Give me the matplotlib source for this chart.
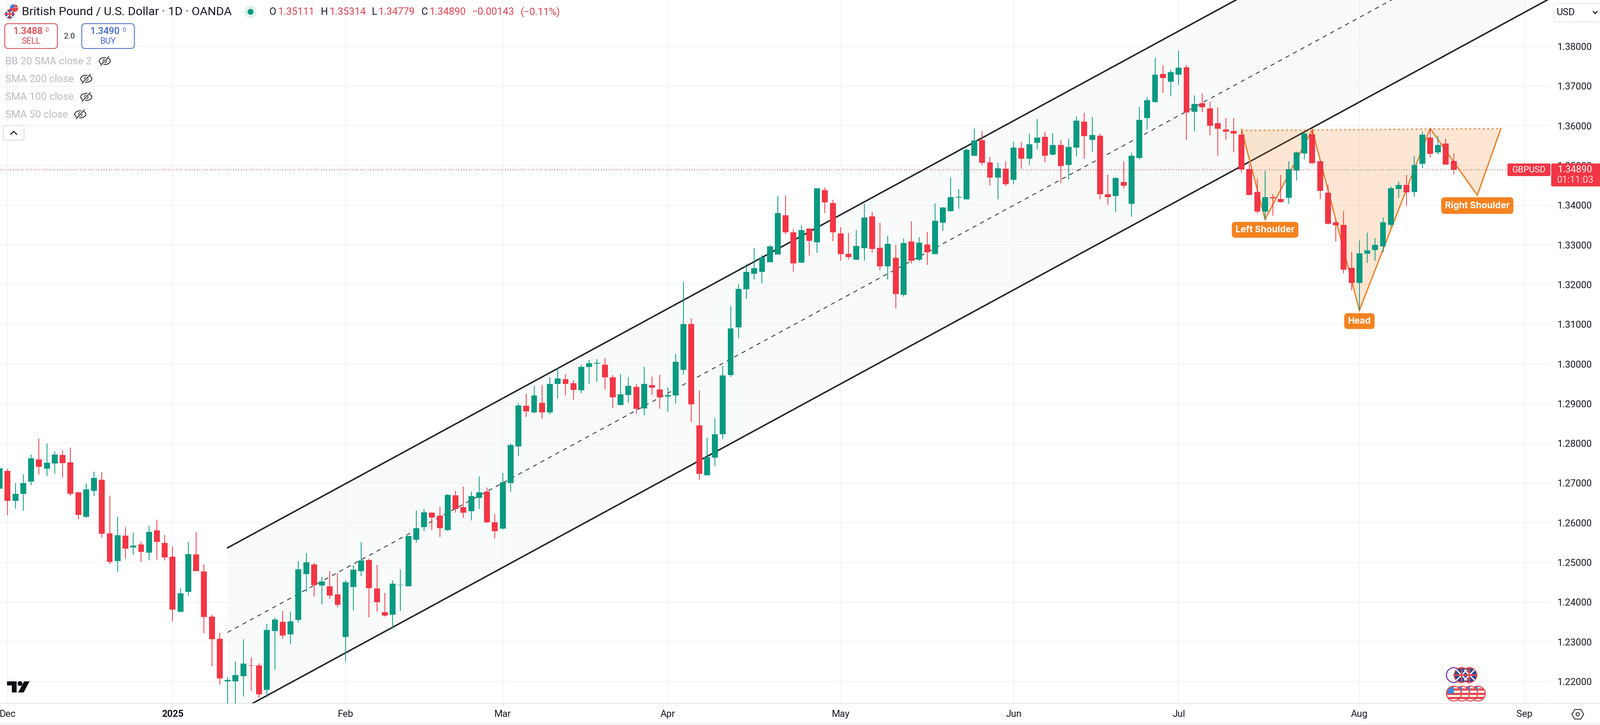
import numpy as np
import matplotlib
matplotlib.use("Agg")
import matplotlib.pyplot as plt
from matplotlib.patches import Circle, Ellipse, FancyBboxPatch, Polygon, Rectangle

plt.rcParams["font.family"] = "Roboto"

# GBPUSD daily candles, first bar sits just left of the Dec tick
first_bar = -1
opens = [
    1.2686, 1.2731, 1.2655, 1.2673, 1.2704, 1.2760, 1.2736, 1.2749, 1.2771, 1.2752,
    1.2677, 1.2615, 1.2680, 1.2708, 1.2573, 1.2503, 1.2568, 1.2538, 1.2545, 1.2525,
    1.2581, 1.2549, 1.2515, 1.2376, 1.2426, 1.2520, 1.2477, 1.2364, 1.2308, 1.2201,
    1.2201, 1.2214, 1.2241, 1.2241, 1.2179, 1.2327, 1.2351, 1.2319, 1.2355, 1.2471,
    1.2495, 1.2442, 1.2440, 1.2420, 1.2312, 1.2438, 1.2478, 1.2506, 1.2434, 1.2375,
    1.2368, 1.2443, 1.2440, 1.2557, 1.2589, 1.2625, 1.2618, 1.2582, 1.2669, 1.2639,
    1.2629, 1.2663, 1.2679, 1.2601, 1.2585, 1.2700, 1.2792, 1.2895, 1.2878, 1.2902,
    1.2878, 1.2950, 1.2962, 1.2952, 1.2934, 1.2993, 1.3001, 1.2998, 1.2966, 1.2897,
    1.2922, 1.2942, 1.2888, 1.2947, 1.2936, 1.2918, 1.2921, 1.2985, 1.3101, 1.2845,
    1.2720, 1.2764, 1.2823, 1.2972, 1.3092, 1.3188, 1.3227, 1.3232, 1.3256, 1.3276,
    1.3375, 1.3332, 1.3255, 1.3341, 1.3307, 1.3438, 1.3405, 1.3329, 1.3278, 1.3263,
    1.3292, 1.3372, 1.3293, 1.3246, 1.3267, 1.3174, 1.3308, 1.3263, 1.3301, 1.3277,
    1.3356, 1.3385, 1.3419, 1.3415, 1.3525, 1.3564, 1.3508, 1.3470, 1.3492, 1.3464,
    1.3544, 1.3517, 1.3557, 1.3572, 1.3527, 1.3552, 1.3501, 1.3545, 1.3610, 1.3565,
    1.3575, 1.3428, 1.3423, 1.3458, 1.3403, 1.3519, 1.3620, 1.3660, 1.3730, 1.3711,
    1.3729, 1.3747, 1.3635, 1.3657, 1.3644, 1.3607, 1.3591, 1.3587, 1.3578, 1.3491,
    1.3433, 1.3384, 1.3420, 1.3416, 1.3418, 1.3487, 1.3530, 1.3579, 1.3511, 1.3431,
    1.3357, 1.3350, 1.3242, 1.3204, 1.3278, 1.3287, 1.3296, 1.3350, 1.3441, 1.3451,
    1.3433, 1.3504, 1.3570, 1.3533, 1.3555, 1.35111,
]
highs = [
    1.2741, 1.2736, 1.2700, 1.2722, 1.2772, 1.2812, 1.2800, 1.2779, 1.2782, 1.2789,
    1.2679, 1.2699, 1.2729, 1.2728, 1.2668, 1.2615, 1.2589, 1.2575, 1.2553, 1.2593,
    1.2608, 1.2570, 1.2541, 1.2435, 1.2552, 1.2576, 1.2495, 1.2368, 1.2323, 1.2212,
    1.2251, 1.2307, 1.2261, 1.2246, 1.2345, 1.2361, 1.2378, 1.2377, 1.2503, 1.2524,
    1.2499, 1.2464, 1.2478, 1.2473, 1.2456, 1.2493, 1.2551, 1.2510, 1.2494, 1.2423,
    1.2455, 1.2483, 1.2567, 1.2631, 1.2635, 1.2626, 1.2640, 1.2672, 1.2680, 1.2691,
    1.2679, 1.2717, 1.2689, 1.2622, 1.2725, 1.2800, 1.2901, 1.2925, 1.2945, 1.2947,
    1.2966, 1.2991, 1.2974, 1.2959, 1.2998, 1.3010, 1.3012, 1.3015, 1.2972, 1.2975,
    1.2967, 1.2950, 1.2993, 1.2968, 1.2973, 1.2941, 1.3025, 1.3207, 1.3115, 1.2934,
    1.2815, 1.2864, 1.2995, 1.3145, 1.3201, 1.3252, 1.3292, 1.3274, 1.3299, 1.3423,
    1.3425, 1.3340, 1.3349, 1.3342, 1.3443, 1.3444, 1.3414, 1.3345, 1.3330, 1.3337,
    1.3403, 1.3383, 1.3356, 1.3323, 1.3300, 1.3316, 1.3360, 1.3320, 1.3333, 1.3404,
    1.3395, 1.3470, 1.3441, 1.3543, 1.3593, 1.3587, 1.3522, 1.3507, 1.3511, 1.3560,
    1.3560, 1.3580, 1.3617, 1.3585, 1.3581, 1.3565, 1.3567, 1.3624, 1.3633, 1.3622,
    1.3580, 1.3477, 1.3470, 1.3511, 1.3532, 1.3648, 1.3672, 1.3771, 1.3753, 1.3741,
    1.3789, 1.3753, 1.3676, 1.3682, 1.3661, 1.3647, 1.3620, 1.3620, 1.3588, 1.3504,
    1.3467, 1.3486, 1.3428, 1.3476, 1.3511, 1.3535, 1.3583, 1.3591, 1.3513, 1.3452,
    1.3364, 1.3385, 1.3282, 1.3311, 1.3331, 1.3317, 1.3369, 1.3447, 1.3459, 1.3476,
    1.3523, 1.3585, 1.3594, 1.3575, 1.3567, 1.35314,
]
lows = [
    1.2677, 1.2619, 1.2636, 1.2630, 1.2694, 1.2721, 1.2718, 1.2724, 1.2714, 1.2668,
    1.2609, 1.2612, 1.2667, 1.2563, 1.2496, 1.2476, 1.2510, 1.2519, 1.2502, 1.2505,
    1.2507, 1.2505, 1.2352, 1.2375, 1.2416, 1.2478, 1.2322, 1.2239, 1.2192, 1.2100,
    1.2125, 1.2162, 1.2176, 1.2160, 1.2161, 1.2230, 1.2308, 1.2294, 1.2349, 1.2426,
    1.2414, 1.2394, 1.2408, 1.2387, 1.2250, 1.2379, 1.2465, 1.2362, 1.2376, 1.2364,
    1.2333, 1.2378, 1.2440, 1.2550, 1.2579, 1.2582, 1.2564, 1.2579, 1.2625, 1.2612,
    1.2606, 1.2635, 1.2599, 1.2560, 1.2583, 1.2679, 1.2768, 1.2867, 1.2876, 1.2862,
    1.2873, 1.2913, 1.2921, 1.2911, 1.2926, 1.2951, 1.2955, 1.2936, 1.2888, 1.2896,
    1.2902, 1.2875, 1.2871, 1.2922, 1.2887, 1.2880, 1.2900, 1.2973, 1.2854, 1.2708,
    1.2720, 1.2743, 1.2811, 1.2967, 1.3064, 1.3164, 1.3212, 1.3203, 1.3256, 1.3276,
    1.3327, 1.3233, 1.3254, 1.3273, 1.3280, 1.3380, 1.3309, 1.3260, 1.3263, 1.3262,
    1.3260, 1.3280, 1.3236, 1.3212, 1.3140, 1.3170, 1.3253, 1.3259, 1.3250, 1.3277,
    1.3335, 1.3384, 1.3391, 1.3415, 1.3524, 1.3501, 1.3450, 1.3415, 1.3448, 1.3453,
    1.3492, 1.3501, 1.3540, 1.3508, 1.3525, 1.3456, 1.3465, 1.3523, 1.3517, 1.3535,
    1.3415, 1.3401, 1.3383, 1.3442, 1.3371, 1.3515, 1.3591, 1.3659, 1.3683, 1.3675,
    1.3703, 1.3564, 1.3586, 1.3634, 1.3576, 1.3525, 1.3565, 1.3533, 1.3482, 1.3425,
    1.3379, 1.3364, 1.3374, 1.3406, 1.3403, 1.3462, 1.3515, 1.3503, 1.3416, 1.3351,
    1.3308, 1.3228, 1.3186, 1.3135, 1.3254, 1.3260, 1.3281, 1.3346, 1.3418, 1.3399,
    1.3421, 1.3493, 1.3520, 1.3527, 1.3502, 1.34779,
]
closes = [
    1.2737, 1.2655, 1.2673, 1.2700, 1.2762, 1.2741, 1.2751, 1.2772, 1.2750, 1.2673,
    1.2620, 1.2684, 1.2713, 1.2572, 1.2502, 1.2569, 1.2535, 1.2543, 1.2527, 1.2577,
    1.2552, 1.2513, 1.2381, 1.2422, 1.2521, 1.2478, 1.2363, 1.2307, 1.2208, 1.2204,
    1.2216, 1.2245, 1.2240, 1.2168, 1.2330, 1.2356, 1.2316, 1.2352, 1.2483, 1.2501,
    1.2443, 1.2452, 1.2417, 1.2393, 1.2450, 1.2482, 1.2505, 1.2435, 1.2400, 1.2366,
    1.2447, 1.2444, 1.2567, 1.2586, 1.2626, 1.2613, 1.2586, 1.2670, 1.2635, 1.2625,
    1.2667, 1.2677, 1.2601, 1.2579, 1.2702, 1.2796, 1.2896, 1.2881, 1.2921, 1.2878,
    1.2950, 1.2964, 1.2950, 1.2935, 1.2993, 1.3002, 1.3003, 1.2966, 1.2916, 1.2924,
    1.2945, 1.2887, 1.2950, 1.2940, 1.2916, 1.2922, 1.3006, 1.3101, 1.2898, 1.2723,
    1.2765, 1.2823, 1.2971, 1.3089, 1.3189, 1.3232, 1.3241, 1.3268, 1.3296, 1.3380,
    1.3332, 1.3253, 1.3337, 1.3310, 1.3443, 1.3407, 1.3332, 1.3277, 1.3269, 1.3297,
    1.3369, 1.3290, 1.3246, 1.3303, 1.3176, 1.3305, 1.3260, 1.3306, 1.3281, 1.3361,
    1.3394, 1.3420, 1.3421, 1.3539, 1.3563, 1.3507, 1.3470, 1.3493, 1.3453, 1.3545,
    1.3517, 1.3553, 1.3570, 1.3525, 1.3552, 1.3498, 1.3547, 1.3613, 1.3574, 1.3577,
    1.3428, 1.3420, 1.3469, 1.3449, 1.3525, 1.3615, 1.3664, 1.3729, 1.3720, 1.3735,
    1.3746, 1.3634, 1.3655, 1.3647, 1.3600, 1.3593, 1.3585, 1.3580, 1.3490, 1.3426,
    1.3384, 1.3420, 1.3417, 1.3408, 1.3491, 1.3533, 1.3580, 1.3506, 1.3436, 1.3353,
    1.3349, 1.3238, 1.3204, 1.3279, 1.3286, 1.3300, 1.3357, 1.3443, 1.3451, 1.3432,
    1.3501, 1.3578, 1.3529, 1.3552, 1.3502, 1.34890,
]

month_bars = [0, 21, 43, 63, 84, 106, 128, 149, 172, 193]
month_labels = ["Dec", "2025", "Feb", "Mar", "Apr", "May", "Jun", "Jul", "Aug", "Sep"]
price_ticks = [1.22, 1.23, 1.24, 1.25, 1.26, 1.27, 1.28, 1.29, 1.30, 1.31, 1.32, 1.33, 1.34, 1.35, 1.36, 1.37, 1.38]

# parallel channel drawing
channel_bars = [28, 200]
channel_upper = [1.2537, 1.4387]
channel_middle = [1.2324, 1.4174]
channel_lower = [1.2111, 1.3961]

# head and shoulders drawing
hs_bars = [157, 160, 166, 172, 181, 187, 190]
hs_prices = [1.3591, 1.3364, 1.3590, 1.3135, 1.3593, 1.3425, 1.3593]
neck_bars = [157, 190]
neck_prices = [1.3588, 1.3593]
hs_labels = ["Left Shoulder", "Head", "Right Shoulder"]
hs_label_bars = [160, 172, 187]
hs_label_prices = [1.3338, 1.3108, 1.3399]

last_price = 1.34890

W, H = 4324, 1960
UP = "#089981"
DOWN = "#F23645"
ORANGE = "#F57F17"
GRID = "#F1F2F4"
PLOT_R, PLOT_B = 4191, 1902

fig = plt.figure(figsize=(W / 100, H / 100), dpi=100, facecolor="white")
ax = fig.add_axes([0, (H - PLOT_B) / H, PLOT_R / W, PLOT_B / H])
ax.set_xlim(-0.96, 196.35)
ax.set_ylim(1.21447, 1.39168)

# channel, then the pattern over it, candles on top of both
ax.fill_between(channel_bars, channel_lower, channel_upper, color="#F8FBF9", lw=0, zorder=0.2)
ax.plot(channel_bars, channel_upper, color="#22242B", lw=2.9, zorder=2)
ax.plot(channel_bars, channel_lower, color="#22242B", lw=2.9, zorder=2)
ax.plot(channel_bars, channel_middle, color="#22242B", lw=1.5, ls=(0, (5.5, 5.5)), zorder=2)

for i in (0, 2, 4):
    ax.fill(hs_bars[i:i + 3], hs_prices[i:i + 3], color=ORANGE, alpha=0.19, lw=0, zorder=2.5)
ax.plot(hs_bars, hs_prices, color="#E5842D", lw=2.6, zorder=2.6, solid_joinstyle="miter")
ax.plot(neck_bars, neck_prices, color="#E08E4E", lw=2.9, ls=(0, (1, 2)), zorder=2.6)

bars = np.arange(first_bar, first_bar + len(opens))
o, h, l, c = map(np.array, (opens, highs, lows, closes))
colors = np.where(c >= o, UP, DOWN)
ax.vlines(bars, l, h, colors=colors, lw=1.5, zorder=3)
ax.bar(bars, np.abs(c - o), bottom=np.minimum(o, c), width=0.75, color=colors, lw=0, zorder=3.1)

ax.axhline(last_price, color="#C2404C", lw=1.44, ls=(0, (1, 2.5)), zorder=4)

for name, bx, py in zip(hs_labels, hs_label_bars, hs_label_prices):
    ax.text(bx, py, name, color="white", fontsize=17.5, fontfamily="Inter", fontweight="bold", ha="center",
            va="center", zorder=7, bbox=dict(boxstyle="round,pad=0.41,rounding_size=0.4", fc="#F58220", ec="none"))

ax.set_xticks(month_bars, month_labels)
ax.set_yticks(price_ticks, [f"{p:.5f}" for p in price_ticks])
ax.yaxis.tick_right()
ax.tick_params(axis="both", length=0, labelsize=18.5, labelcolor="#131722")
ax.tick_params(axis="x", pad=12)
ax.tick_params(axis="y", pad=13)
ax.get_xticklabels()[1].set_fontweight("bold")
ax.grid(color=GRID, lw=1.5)
ax.set_axisbelow(True)
for side in ("top", "right", "left"):
    ax.spines[side].set_visible(False)
ax.spines["bottom"].set_color("#E0E3EB")
ax.spines["bottom"].set_linewidth(1.5)

# everything around the chart, in screen pixels
ui = fig.add_axes([0, 0, 1, 1])
ui.set_xlim(0, W)
ui.set_ylim(H, 0)
ui.axis("off")


def label(x, y, s, size=18.5, color="#131722", ha="left", **kw):
    ui.text(x, y, s, fontsize=size, color=color, ha=ha, va="center", **kw)


def rounded(x0, y0, x1, y1, r, fc="white", ec="none", lw=1.5):
    ui.add_patch(FancyBboxPatch((x0 + r, y0 + r), x1 - x0 - 2 * r, y1 - y0 - 2 * r,
                                boxstyle=f"round,pad={r},rounding_size={r}", fc=fc, ec=ec, lw=lw))


def uk_flag(x, y, r=20, ring="#E5484D"):
    ui.add_patch(Circle((x, y), r, fc="#1F4A9C", ec="none"))
    clip = Circle((x, y), r, transform=ui.transData)
    for dx in (-1, 1):
        ln, = ui.plot([x - r * dx, x + r * dx], [y - r, y + r], color="white", lw=2.5)
        ln.set_clip_path(clip)
    ui.plot([x - r, x + r], [y, y], color="#E5484D", lw=3)
    ui.plot([x, x], [y - r, y + r], color="#E5484D", lw=3)
    ui.add_patch(Circle((x, y), r, fc="none", ec=ring, lw=2))


def us_flag(x, y, r=20, ring="#E5484D"):
    ui.add_patch(Circle((x, y), r, fc="white", ec="none"))
    clip = Circle((x, y), r, transform=ui.transData)
    for k in (-0.55, 0.05, 0.6):
        rect = Rectangle((x - r, y + k * r - 3), 2 * r, 6, fc="#E5484D", ec="none")
        ui.add_patch(rect)
        rect.set_clip_path(clip)
    rect = Rectangle((x - r, y - r), r, r, fc="#3E86DB", ec="none")
    ui.add_patch(rect)
    rect.set_clip_path(clip)
    ui.add_patch(Circle((x, y), r, fc="none", ec=ring, lw=2))


def eye_off(x, y):
    ui.add_patch(Ellipse((x, y), 30, 19, angle=0, fc="none", ec="#131722", lw=1.5))
    ui.add_patch(Circle((x, y), 5, fc="none", ec="#131722", lw=1.2))
    ui.plot([x - 9, x + 9], [y + 12, y - 12], color="white", lw=4)
    ui.plot([x - 11, x + 11], [y + 12, y - 12], color="#131722", lw=1.5)


# header
us_flag(38, 22, r=11, ring="none")
uk_flag(26, 38, r=12, ring="none")
label(59, 32, "British Pound / U.S. Dollar · 1D · OANDA", size=23.2)
ui.add_patch(Ellipse((677, 32), 34, 34, fc="#DFF2EE", ec="none"))
ui.add_patch(Circle((677, 32), 8, fc=UP, ec="none"))
ohlc_x = [727, 867, 1005, 1138]
ohlc_txt = ["O", "H", "L", "C"]
ohlc_val = ["1.35111", "1.35314", "1.34779", "1.34890"]
ohlc_val_x = [752, 891, 1023, 1161]
for xl, t, xv, v in zip(ohlc_x, ohlc_txt, ohlc_val_x, ohlc_val):
    label(xl, 33, t, size=19.5)
    label(xv, 33, v, size=19.5, color="#D9434F")
label(1276, 33, "−0.00143", size=19.5, color="#D9434F")
label(1406, 33, "(−0.11%)", size=19.5, color="#D9434F")

# sell / buy
rounded(13, 64, 155, 131, 9, ec="#D9434F", lw=1.5)
rounded(221, 64, 363, 131, 9, ec="#3F68C8", lw=1.5)
label(36, 85, "1.3488", size=18.5, color="#D9434F", fontweight="medium")
label(122, 82, "0", size=11.5, color="#D9434F")
label(84, 112, "SELL", size=16.5, color="#D9434F", ha="center")
label(244, 85, "1.3490", size=18.5, color="#3F68C8", fontweight="medium")
label(331, 82, "0", size=11.5, color="#3F68C8")
label(291, 112, "BUY", size=16.5, color="#3F68C8", ha="center")
label(188, 98, "2.0", size=15, ha="center")

# hidden indicators
for y, name, ex in [(166, "BB 20 SMA close 2", 283), (214, "SMA 200 close", 233),
                    (263, "SMA 100 close", 233), (310, "SMA 50 close", 217)]:
    label(14, y, name, size=20, color="#B8BBC3")
    eye_off(ex, y - 1)
rounded(9, 339, 65, 379, 5, ec="#D6D8DE", lw=1.5)
ui.plot([29, 37, 45], [363, 355, 363], color="#131722", lw=2)

# logo
ui.add_patch(Polygon([(19, 1842), (45, 1842), (45, 1872), (32, 1872), (32, 1853), (19, 1853)], fc="#0B0E14", ec="none"))
ui.add_patch(Circle((54, 1848), 6.5, fc="#0B0E14", ec="none"))
ui.add_patch(Polygon([(65, 1842), (80, 1842), (64, 1872), (49, 1872)], fc="#0B0E14", ec="none"))

# price tag
rounded(4074, 442, 4190, 476, 4, fc=DOWN)
label(4132, 459, "GBPUSD", size=17, color="white", ha="center")
rounded(4192, 442, 4330, 504, 4, fc=DOWN)
label(4257, 459, f"{last_price:.5f}", size=18.5, color="white", ha="center")
label(4257, 487, "01:11:03", size=18.5, color="#FBD5D9", ha="center")

# currency box
rounded(4199, 9, 4334, 59, 8, ec="#E4E6EA", lw=1.5)
label(4206, 34, "USD", size=19)
ui.plot([4306, 4311, 4316], [31, 37, 31], color="#131722", lw=2)

# economic events
ui.add_patch(Circle((3929, 1825), 20, fc="white", ec="#7B2BA8", lw=2))
uk_flag(3971, 1825)
uk_flag(3950, 1825)
for ex in (3994, 3973, 3951, 3929):
    us_flag(ex, 1875)

# bottom strip
ui.plot([0, W], [1957, 1957], color="#EDEEF1", lw=2)
ui.plot([4194, W], [PLOT_B, PLOT_B], color="#E0E3EB", lw=1.5)
theta = np.deg2rad(np.arange(0, 360, 60))
ui.add_patch(Polygon(np.c_[4264 + 16 * np.cos(theta), 1931 + 15 * np.sin(theta)], fc="none", ec="#131722", lw=1.5))
ui.add_patch(Circle((4264, 1931), 4.5, fc="none", ec="#131722", lw=1.5))

fig.savefig("out.png", dpi=100, facecolor="white")
